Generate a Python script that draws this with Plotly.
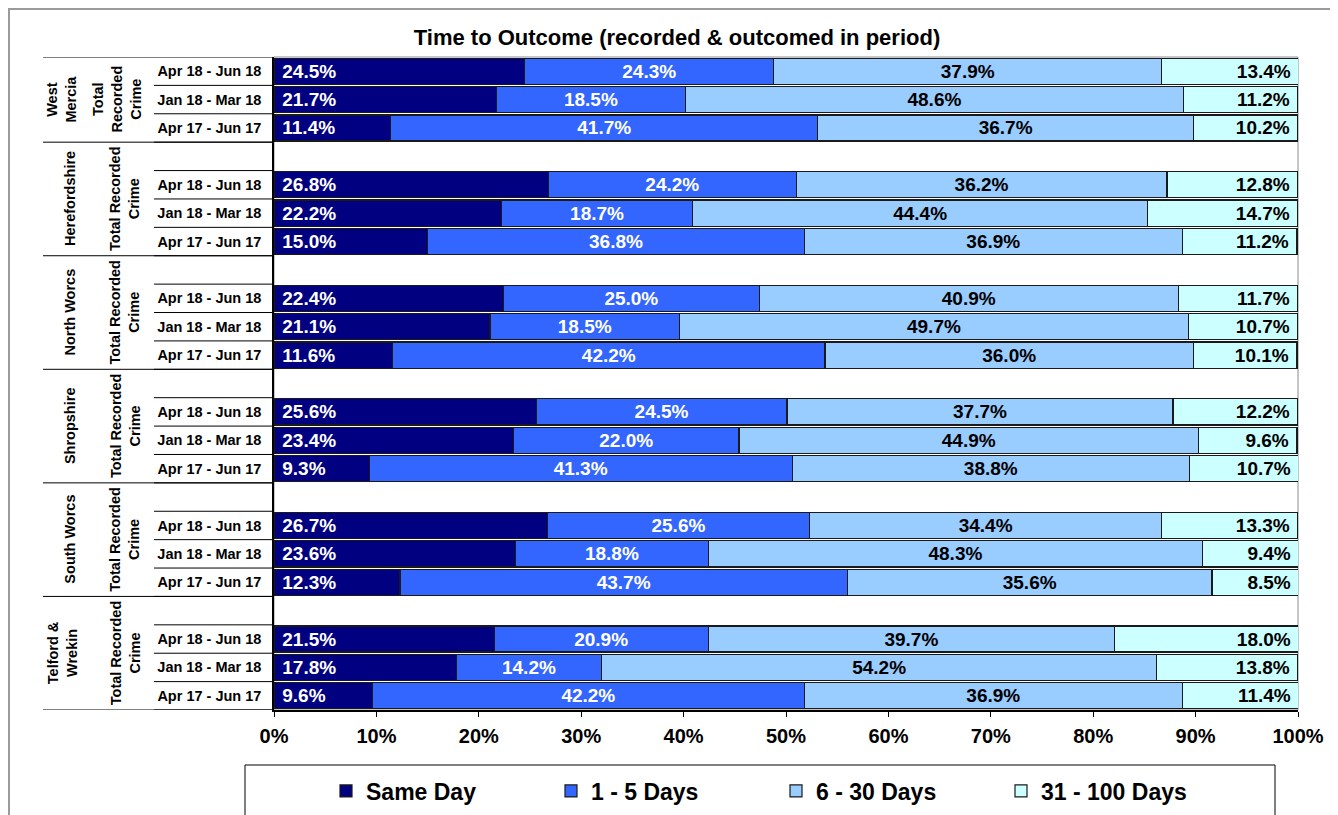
import plotly.graph_objects as go

# chart values
periods = ["Apr 18 - Jun 18", "Jan 18 - Mar 18", "Apr 17 - Jun 17"]
areas = ["West<br>Mercia", "Herefordshire", "North Worcs", "Shropshire",
         "South Worcs", "Telford &<br>Wrekin"]
crime_labels = ["Total<br>Recorded<br>Crime"] + ["Total Recorded<br>Crime"] * 5
series_names = ["Same Day", "1 - 5 Days", "6 - 30 Days", "31 - 100 Days"]

same_day = [24.5, 21.7, 11.4, 26.8, 22.2, 15.0, 22.4, 21.1, 11.6,
            25.6, 23.4, 9.3, 26.7, 23.6, 12.3, 21.5, 17.8, 9.6]
days_1_5 = [24.3, 18.5, 41.7, 24.2, 18.7, 36.8, 25.0, 18.5, 42.2,
            24.5, 22.0, 41.3, 25.6, 18.8, 43.7, 20.9, 14.2, 42.2]
days_6_30 = [37.9, 48.6, 36.7, 36.2, 44.4, 36.9, 40.9, 49.7, 36.0,
             37.7, 44.9, 38.8, 34.4, 48.3, 35.6, 39.7, 54.2, 36.9]
days_31_100 = [13.4, 11.2, 10.2, 12.8, 14.7, 11.2, 11.7, 10.7, 10.1,
               12.2, 9.6, 10.7, 13.3, 9.4, 8.5, 18.0, 13.8, 11.4]

x_ticks = [0, 10, 20, 30, 40, 50, 60, 70, 80, 90, 100]

colors = ["#000080", "#3366FF", "#99CCFF", "#CCFFFF"]
text_colors = ["white", "white", "black", "black"]
anchors = ["start", "middle", "middle", "end"]
templates = ["\u00a0%{x:.1f}%", "%{x:.1f}%", "%{x:.1f}%", "%{x:.1f}%\u00a0"]

FONT = "Arial, Liberation Sans, sans-serif"

# row layout: each area gets 4 slots (blank + 3 periods), first area has no blank
n_rows = 23
rows = []
for g in range(len(areas)):
    for p in range(len(periods)):
        rows.append(4 * g + p)
row_labels = periods * len(areas)

# page body adds an 8px margin, so work in page pixels minus that offset
OFF = 8
W, H = 1338 - OFF, 815 - OFF
L, R, T, B = 274 - OFF, 1298 - OFF, 57 - OFF, 710 - OFF
def px(x):
    return (x - OFF - L) / (R - L)
def py(y):
    return (B - (y - OFF)) / (B - T)

fig = go.Figure()
for name, vals, col, tc, anc, tpl in zip(series_names,
                                         [same_day, days_1_5, days_6_30, days_31_100],
                                         colors, text_colors, anchors, templates):
    fig.add_trace(go.Bar(
        name=name, x=vals, y=rows, orientation="h",
        marker=dict(color=col, line=dict(color="#1a1a1a", width=1.2)),
        texttemplate=tpl, textposition="inside", insidetextanchor=anc,
        insidetextfont=dict(family=FONT, size=19, color=tc, weight="bold"),
        constraintext="none", hoverinfo="skip",
    ))

shapes = []
# table lines on the left
for r in range(n_rows):
    shapes.append(dict(type="line", xref="paper", yref="y", x0=px(154), x1=0,
                       y0=r + 0.5, y1=r + 0.5, line=dict(color="black", width=1)))
for yb in [-0.5] + [4 * g + 2.5 for g in range(len(areas))]:
    shapes.append(dict(type="line", xref="paper", yref="y", x0=px(43), x1=0,
                       y0=yb, y1=yb, line=dict(color="black", width=1)))
# plot area border (grey)
shapes.append(dict(type="rect", xref="paper", yref="paper", x0=0, x1=1, y0=0, y1=1,
                   line=dict(color="#8c8c8c", width=1), layer="below"))
# outer frame
shapes.append(dict(type="rect", xref="paper", yref="paper", x0=px(9), x1=px(1333),
                   y0=py(9), y1=py(860), line=dict(color="#9a9a9a", width=2)))
# legend box
shapes.append(dict(type="rect", xref="paper", yref="paper", x0=px(245), x1=px(1275),
                   y0=py(765), y1=py(860), line=dict(color="black", width=1)))

annotations = []
for g in range(len(areas)):
    if g == 0:
        yc = 1
    else:
        yc = 4 * g + 0.5
    two_line = "<br>" in areas[g]
    annotations.append(dict(text=areas[g], xref="paper", yref="y",
                            x=px(62 if two_line else 70), y=yc, textangle=-90,
                            showarrow=False, xanchor="center", yanchor="middle",
                            font=dict(family=FONT, size=14.5, color="black", weight="bold")))
    annotations.append(dict(text=crime_labels[g], xref="paper", yref="y",
                            x=px(117 if g == 0 else 125), y=yc, textangle=-90,
                            showarrow=False, xanchor="center", yanchor="middle",
                            font=dict(family=FONT, size=14.5, color="black", weight="bold")))

fig.update_layout(
    width=W, height=H,
    margin=dict(l=L, r=W - R, t=T, b=H - B),
    paper_bgcolor="white", plot_bgcolor="white",
    barmode="stack", bargap=0.08,
    title=dict(text="Time to Outcome (recorded & outcomed in period)",
               x=(677 - OFF) / W, xanchor="center", y=1 - (37 - OFF) / H, yanchor="middle",
               font=dict(family=FONT, size=22, color="black", weight="bold")),
    xaxis=dict(range=[0, 100], tickvals=x_ticks,
               ticktext=["%d%%" % v for v in x_ticks],
               showgrid=False, zeroline=False, showline=True, linecolor="black",
               linewidth=1.5, ticks="outside", ticklen=5, tickcolor="black",
               tickfont=dict(family=FONT, size=20, color="black", weight="bold"),
               ticklabelstandoff=2),
    yaxis=dict(range=[n_rows - 0.5, -0.5], tickvals=rows,
               ticktext=row_labels,
               showgrid=False, zeroline=False, showline=True, linecolor="black",
               linewidth=1.5, ticks="", ticklabelstandoff=8,
               tickfont=dict(family=FONT, size=14.5, color="black", weight="bold")),
    showlegend=True,
    legend=dict(orientation="h", xref="container", yref="container",
                x=(326 - OFF) / W, xanchor="left",
                y=1 - (791 - OFF) / H, yanchor="middle",
                bgcolor="rgba(0,0,0,0)", borderwidth=0, traceorder="normal",
                entrywidth=180, entrywidthmode="pixels",
                font=dict(family=FONT, size=23, color="black", weight="bold")),
    shapes=shapes, annotations=annotations,
)

fig.write_html("out.html")
